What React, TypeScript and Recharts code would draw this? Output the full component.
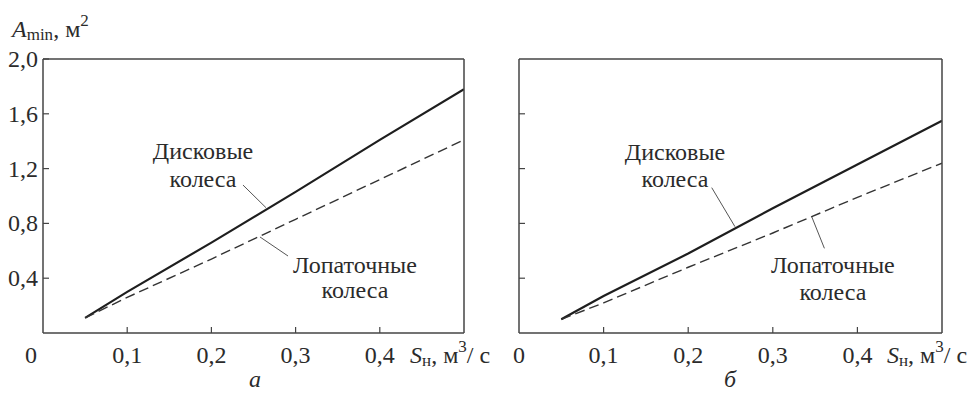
import React from 'react';
import { LineChart, Line, XAxis, YAxis, ReferenceLine, ReferenceDot } from 'recharts';

// S_н, м³/с
const sPoints = [0.05, 0.1, 0.2, 0.3, 0.4, 0.5];
// panel а: A_min, м²
const diskA = [0.11, 0.3, 0.66, 1.03, 1.41, 1.78];
const bladeA = [0.11, 0.26, 0.54, 0.83, 1.12, 1.41];
// panel б
const diskB = [0.1, 0.27, 0.58, 0.91, 1.23, 1.55];
const bladeB = [0.1, 0.22, 0.48, 0.73, 0.99, 1.24];

const xTicks = [0, 0.1, 0.2, 0.3, 0.4];
const yTicksA = [0.4, 0.8, 1.2, 1.6, 2.0];
const yTicksB = [0.4, 0.8, 1.2, 1.6];

// curve captions, in data units
const captionsA = [
  { s: 0.19, a: 1.27, text: 'Дисковые' },
  { s: 0.19, a: 1.066, text: 'колеса' },
  { s: 0.3705, a: 0.438, text: 'Лопаточные' },
  { s: 0.3705, a: 0.255, text: 'колеса' },
];
const captionsB = [
  { s: 0.1844, a: 1.263, text: 'Дисковые' },
  { s: 0.1844, a: 1.066, text: 'колеса' },
  { s: 0.371, a: 0.438, text: 'Лопаточные' },
  { s: 0.371, a: 0.241, text: 'колеса' },
];
const leadersA = [
  [{ s: 0.2375, a: 1.08 }, { s: 0.2648, a: 0.915 }],
  [{ s: 0.2577, a: 0.701 }, { s: 0.291, a: 0.562 }],
];
const leadersB = [
  [{ s: 0.2278, a: 1.061 }, { s: 0.2553, a: 0.776 }],
  [{ s: 0.346, a: 0.849 }, { s: 0.361, a: 0.618 }],
];

const INK = '#1e1e1e';
const TEXT = '#2b2b2b';
const AXIS = '#444';
const FONT = 24;
const SMALL = 17;
const SERIF = "'Liberation Serif', 'Times New Roman', 'DejaVu Serif', serif";
const txt = { fontFamily: SERIF, fontSize: FONT };

const fmt = (v: number) => v.toFixed(1).replace('.', ',');
const rows = (ys: number[]) => sPoints.map((s, i) => ({ s, a: ys[i] }));

function XTick({ x, y, payload, zeroDx }: any) {
  const v = payload.value;
  if (v === 0) {
    return (
      <text x={x + zeroDx} y={y + 30} textAnchor="middle" fill={TEXT} style={txt}>
        0
      </text>
    );
  }
  return (
    <g>
      <line x1={x} x2={x} y1={y} y2={y - 6} stroke={AXIS} strokeWidth={1.2} />
      <text x={x} y={y + 30} textAnchor="middle" fill={TEXT} style={txt}>
        {fmt(v)}
      </text>
    </g>
  );
}

function YTick({ x, y, payload, showLabel }: any) {
  return (
    <g>
      <line x1={x} x2={x + 6} y1={y} y2={y} stroke={AXIS} strokeWidth={1.2} />
      {showLabel && (
        <text x={x - 5} y={y + 8} textAnchor="end" fill={TEXT} style={txt}>
          {fmt(payload.value)}
        </text>
      )}
    </g>
  );
}

const plainText = (text: string, anchor = 'middle', italic = false) => (p: any) => (
  <text x={p.cx} y={p.cy} textAnchor={anchor} fill={TEXT} style={{ ...txt, fontStyle: italic ? 'italic' : 'normal' }}>
    {text}
  </text>
);

const yTitle = (p: any) => (
  <text x={p.cx} y={p.cy} fill={TEXT} style={txt}>
    <tspan style={{ fontStyle: 'italic' }}>A</tspan>
    <tspan style={{ fontSize: SMALL }} dy={3}>min</tspan>
    <tspan dy={-3}>, м</tspan>
    <tspan style={{ fontSize: SMALL }} dy={-11}>2</tspan>
  </text>
);

const xTitle = (p: any) => (
  <text x={p.cx} y={p.cy} fill={TEXT} style={txt}>
    <tspan style={{ fontStyle: 'italic' }}>S</tspan>
    <tspan style={{ fontSize: SMALL }} dy={3}>н</tspan>
    <tspan dy={-3}>, м</tspan>
    <tspan style={{ fontSize: SMALL }} dy={-11}>3</tspan>
    <tspan dy={11}>/ с</tspan>
  </text>
);

type Pt = { s: number; a: number };

interface PanelProps {
  left: number;
  width: number;
  plotLeft: number;
  plotRight: number;
  disk: number[];
  blade: number[];
  yTicks: number[];
  captions: { s: number; a: number; text: string }[];
  leaders: Pt[][];
  showYLabels: boolean;
  zeroDx: number;
  letter: string;
  letterAt: Pt;
  xTitleAt: Pt;
  yTitleAt?: Pt;
}

function Panel(props: PanelProps) {
  const { left, width, plotLeft, plotRight, disk, blade, yTicks, captions, leaders, showYLabels, zeroDx, letter, letterAt, xTitleAt, yTitleAt } = props;
  const yAxisWidth = plotLeft - left;
  const rightMargin = width - (plotRight - left) - 1;
  return (
    <div style={{ position: 'absolute', left, top: 0 }}>
      <LineChart width={width} height={393} margin={{ top: 58, right: rightMargin, bottom: 0, left: 0 }} style={{ fontFamily: SERIF }}>
        <XAxis
          xAxisId={0}
          type="number"
          dataKey="s"
          domain={[0, 0.5]}
          ticks={xTicks}
          height={60}
          tickSize={0}
          tickMargin={0}
          tickLine={false}
          axisLine={{ stroke: AXIS, strokeWidth: 1.5 }}
          tick={(p: any) => <XTick {...p} zeroDx={zeroDx} />}
          allowDataOverflow
        />
        <XAxis xAxisId="top" orientation="top" type="number" domain={[0, 0.5]} height={1} tick={false} tickLine={false} axisLine={{ stroke: AXIS, strokeWidth: 1.5 }} />
        <YAxis
          yAxisId={0}
          type="number"
          domain={[0, 2]}
          ticks={yTicks}
          width={yAxisWidth}
          tickSize={0}
          tickMargin={0}
          tickLine={false}
          axisLine={{ stroke: AXIS, strokeWidth: 1.5 }}
          tick={(p: any) => <YTick {...p} showLabel={showYLabels} />}
          allowDataOverflow
        />
        <YAxis yAxisId="right" orientation="right" type="number" domain={[0, 2]} width={1} tick={false} tickLine={false} axisLine={{ stroke: AXIS, strokeWidth: 1.5 }} />

        <Line data={rows(disk)} dataKey="a" type="linear" stroke={INK} strokeWidth={2.2} dot={false} activeDot={false} isAnimationActive={false} />
        <Line data={rows(blade)} dataKey="a" type="linear" stroke="#333" strokeWidth={1.4} strokeDasharray="10 5" dot={false} activeDot={false} isAnimationActive={false} />

        {leaders.map((seg, i) => (
          <ReferenceLine
            key={`l${i}`}
            segment={[{ x: seg[0].s, y: seg[0].a }, { x: seg[1].s, y: seg[1].a }]}
            stroke="#555"
            strokeWidth={1}
          />
        ))}
        {captions.map((c, i) => (
          <ReferenceDot key={`c${i}`} x={c.s} y={c.a} r={1} ifOverflow="visible" shape={plainText(c.text)} />
        ))}
        <ReferenceDot x={letterAt.s} y={letterAt.a} r={1} ifOverflow="visible" shape={plainText(letter, 'middle', true)} />
        <ReferenceDot x={xTitleAt.s} y={xTitleAt.a} r={1} ifOverflow="visible" shape={xTitle} />
        {yTitleAt && <ReferenceDot x={yTitleAt.s} y={yTitleAt.a} r={1} ifOverflow="visible" shape={yTitle} />}
      </LineChart>
    </div>
  );
}

export default function App() {
  return (
    <div style={{ position: 'absolute', left: 0, top: 0, width: 970, height: 393, background: '#fff', fontFamily: SERIF }}>
      <Panel
        left={0}
        width={500}
        plotLeft={43}
        plotRight={464}
        disk={diskA}
        blade={bladeA}
        yTicks={yTicksA}
        captions={captionsA}
        leaders={leadersA}
        showYLabels
        zeroDx={-12}
        letter="а"
        letterAt={{ s: 0.2518, a: -0.395 }}
        xTitleAt={{ s: 0.4359, a: -0.219 }}
        yTitleAt={{ s: -0.0368, a: 2.161 }}
      />
      <Panel
        left={490}
        width={480}
        plotLeft={519}
        plotRight={942}
        disk={diskB}
        blade={bladeB}
        yTicks={yTicksB}
        captions={captionsB}
        leaders={leadersB}
        showYLabels={false}
        zeroDx={0}
        letter="б"
        letterAt={{ s: 0.2494, a: -0.395 }}
        xTitleAt={{ s: 0.435, a: -0.219 }}
      />
    </div>
  );
}
